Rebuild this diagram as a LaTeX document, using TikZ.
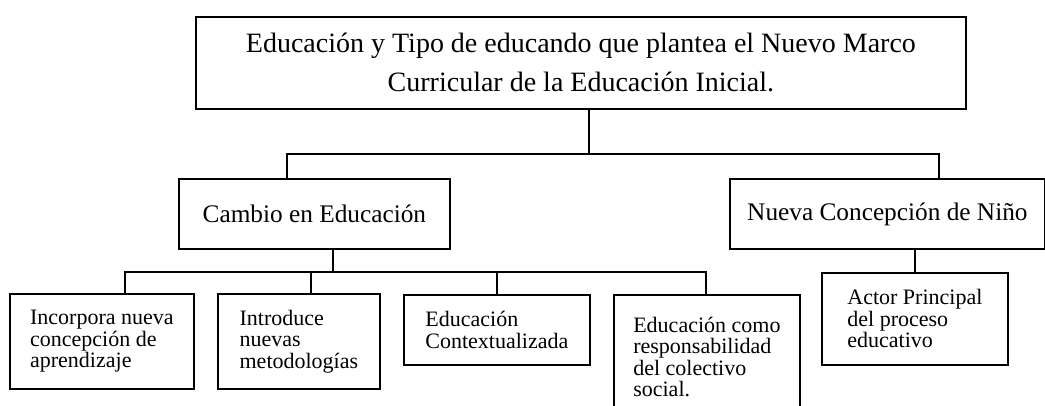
\documentclass[tikz,border=0pt]{standalone}
\usepackage{fontspec}
\setmainfont{Liberation Serif}

\begin{document}
\begin{tikzpicture}[x=0.5pt,y=-0.5pt,
				box/.style={draw,rectangle,line width=0.9pt,inner sep=0pt,anchor=north west},
				title/.style={box,align=center,font=\fontsize{14}{19.5}\selectfont},
				branch/.style={box,font=\fontsize{12.65}{15}\selectfont},
				leaf/.style={box,align=left,font=\fontsize{11}{10.75}\selectfont},
				link/.style={line width=0.9pt}]
				\clip (0,0) rectangle (1045,406);
				\node (TOP)    [title,minimum width=385pt,minimum height=46pt]  at (195,16)  {Educación y Tipo de educando que plantea el Nuevo Marco\\Curricular de la Educación Inicial.};
				\node (CAMBIO) [branch,minimum width=135.5pt,minimum height=35pt] at (178,178) {Cambio en Educación};
				\node (NINO)   [branch,minimum width=157.5pt,minimum height=35pt] at (729,178) {Nueva Concepción de Niño};
				\node (INC)    [leaf,minimum width=92pt,minimum height=47.5pt]    at (9,293)   {Incorpora nueva\\concepción de\\aprendizaje};
				\node (INTRO)  [leaf,minimum width=81pt,minimum height=47.5pt]    at (217,293) {Introduce\\nuevas\\metodologías};
				\node (CTX)    [leaf,minimum width=93pt,minimum height=35pt]      at (403,294) {Educación\\Contextualizada};
				\node (RESP)   [leaf,minimum width=93pt,minimum height=62pt]      at (613,294) {Educación como\\responsabilidad\\del colectivo\\social.};
				\node (ACTOR)  [leaf,minimum width=93pt,minimum height=46pt]      at (821,272) {Actor Principal\\del proceso\\educativo};
				
				\coordinate (TJ) at (589,154);
				\coordinate (CL) at (287,154);
				\coordinate (CR) at (939,154);
				\coordinate (BJ) at (333,272);
				\coordinate (B1) at (125,272);
				\coordinate (B2) at (311,272);
				\coordinate (B3) at (497,272);
				\coordinate (B4) at (706,272);
				
				\draw[link] (TOP.south -| TJ) -- (TJ);
				\draw[link] (CL |- CAMBIO.north) -- (CL) -- (CR) -- (CR |- NINO.north);
				\draw[link] (CAMBIO.south -| BJ) -- (BJ);
				\draw[link] (B1 |- INC.north) -- (B1) -- (B4) -- (B4 |- RESP.north);
				\draw[link] (B2) -- (B2 |- INTRO.north);
				\draw[link] (B3) -- (B3 |- CTX.north);
				\draw[link] (NINO.south -| ACTOR.north) -- (ACTOR.north);
			\end{tikzpicture}
\end{document}
